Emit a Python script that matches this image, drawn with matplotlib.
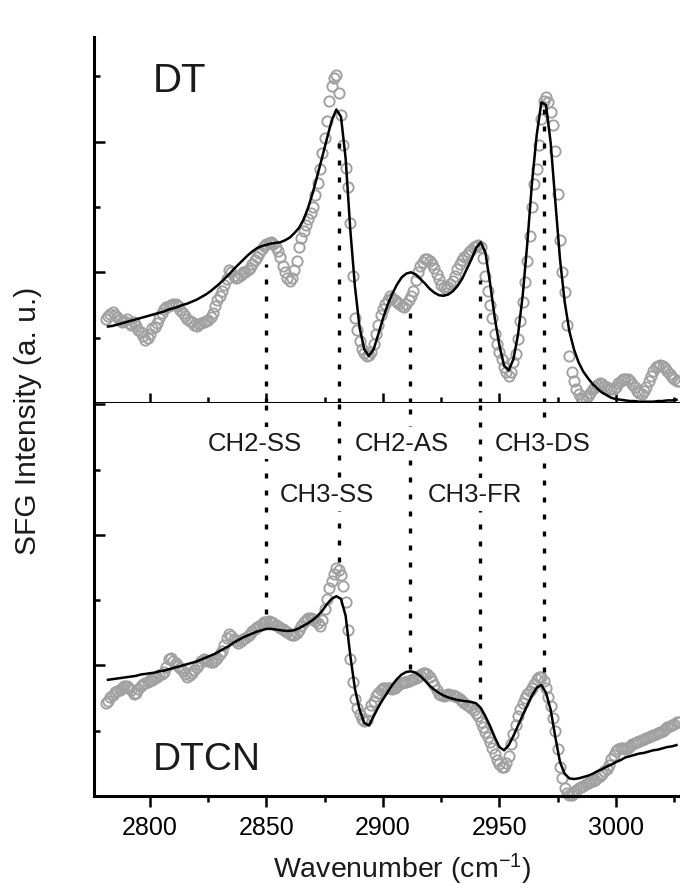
import numpy as np
import matplotlib
matplotlib.use('Agg')
import matplotlib.pyplot as plt
from matplotlib.ticker import MultipleLocator

plt.rcParams['font.family'] = ['Liberation Sans', 'DejaVu Sans']
plt.rcParams['mathtext.fontset'] = 'custom'
plt.rcParams['mathtext.rm'] = 'Liberation Sans'
plt.rcParams['mathtext.default'] = 'regular'

# SFG spectra, one point per cm-1 starting at 2781
dt_start = 2781
dt_data = [
    1.29, 1.33, 1.36, 1.39, 1.35, 1.31, 1.27, 1.24, 1.26, 1.29,
    1.22, 1.20, 1.24, 1.18, 1.12, 1.08, 1.03, 0.96, 1.00, 1.06,
    1.14, 1.17, 1.22, 1.30, 1.38, 1.44, 1.47, 1.49, 1.50, 1.51,
    1.52, 1.48, 1.42, 1.38, 1.33, 1.29, 1.26, 1.24, 1.20, 1.18,
    1.21, 1.23, 1.24, 1.25, 1.27, 1.31, 1.37, 1.48, 1.57, 1.63,
    1.71, 1.80, 1.89, 2.03, 2.00, 1.95, 1.91, 1.93, 1.96, 2.00,
    2.00, 2.03, 2.07, 2.13, 2.19, 2.23, 2.30, 2.36, 2.40, 2.44,
    2.45, 2.46, 2.43, 2.38, 2.33, 2.23, 2.10, 2.01, 1.92, 1.87,
    1.92, 2.03, 2.18, 2.38, 2.52, 2.63, 2.72, 2.82, 2.90, 3.00,
    3.18, 3.37, 3.58, 3.82, 4.05, 4.32, 4.62, 4.85, 4.98, 5.02,
    4.75, 4.40, 3.95, 3.60, 3.30, 2.75, 1.95, 1.30, 1.12, 0.95,
    0.83, 0.77, 0.72, 0.74, 0.78, 0.90, 1.05, 1.20, 1.35, 1.44,
    1.51, 1.58, 1.64, 1.61, 1.58, 1.55, 1.52, 1.48, 1.47, 1.52,
    1.57, 1.63, 1.72, 1.88, 2.00, 2.10, 2.16, 2.20, 2.21, 2.18,
    2.13, 2.06, 1.97, 1.89, 1.81, 1.77, 1.75, 1.77, 1.82, 1.87,
    1.95, 2.05, 2.12, 2.19, 2.23, 2.27, 2.31, 2.34, 2.38, 2.40,
    2.41, 2.38, 2.22, 1.95, 1.72, 1.50, 1.30, 1.05, 0.90, 0.78,
    0.67, 0.55, 0.47, 0.42, 0.48, 0.62, 0.75, 0.98, 1.25, 1.55,
    1.85, 2.18, 2.55, 3.00, 3.35, 3.58, 3.95, 4.35, 4.62, 4.68,
    4.60, 4.45, 4.25, 3.85, 3.20, 2.50, 2.00, 1.70, 1.20, 0.72,
    0.47, 0.34, 0.22, 0.14, 0.08, 0.06, 0.08, 0.11, 0.15, 0.21,
    0.25, 0.28, 0.30, 0.29, 0.26, 0.24, 0.22, 0.21, 0.21, 0.25,
    0.31, 0.34, 0.37, 0.37, 0.36, 0.33, 0.29, 0.24, 0.19, 0.16,
    0.14, 0.19, 0.24, 0.33, 0.42, 0.49, 0.55, 0.57, 0.58, 0.57,
    0.53, 0.49, 0.45, 0.40, 0.37, 0.34, 0.33,
]

dtcn_start = 2781
dtcn_data = [
    1.42, 1.46, 1.51, 1.55, 1.59, 1.61, 1.63, 1.66, 1.68, 1.69,
    1.66, 1.62, 1.57, 1.58, 1.64, 1.68, 1.71, 1.73, 1.75, 1.77,
    1.78, 1.80, 1.83, 1.85, 1.87, 1.90, 1.97, 2.10, 2.11, 2.07,
    2.03, 1.99, 1.96, 1.92, 1.87, 1.83, 1.85, 1.89, 1.93, 1.97,
    2.02, 2.07, 2.10, 2.09, 2.07, 2.06, 2.05, 2.08, 2.12, 2.17,
    2.22, 2.32, 2.42, 2.48, 2.45, 2.41, 2.38, 2.35, 2.37, 2.40,
    2.42, 2.45, 2.48, 2.52, 2.56, 2.59, 2.61, 2.63, 2.66, 2.67,
    2.68, 2.67, 2.65, 2.62, 2.60, 2.58, 2.56, 2.53, 2.51, 2.48,
    2.47, 2.46, 2.49, 2.54, 2.60, 2.66, 2.69, 2.72, 2.73, 2.71,
    2.68, 2.65, 2.61, 2.70, 2.86, 3.02, 3.18, 3.30, 3.40, 3.49,
    3.46, 3.38, 3.22, 2.97, 2.55, 2.10, 1.75, 1.48, 1.35, 1.25,
    1.18, 1.15, 1.17, 1.30, 1.40, 1.46, 1.53, 1.58, 1.63, 1.65,
    1.66, 1.66, 1.65, 1.64, 1.66, 1.69, 1.71, 1.73, 1.74, 1.75,
    1.76, 1.77, 1.79, 1.81, 1.83, 1.86, 1.89, 1.89, 1.87, 1.82,
    1.76, 1.70, 1.63, 1.57, 1.54, 1.53, 1.54, 1.56, 1.55, 1.54,
    1.53, 1.52, 1.49, 1.45, 1.42, 1.40, 1.38, 1.35, 1.31, 1.27,
    1.22, 1.14, 1.06, 0.98, 0.90, 0.82, 0.74, 0.64, 0.55, 0.49,
    0.44, 0.45, 0.50, 0.62, 0.80, 0.95, 1.08, 1.22, 1.34, 1.43,
    1.50, 1.56, 1.61, 1.65, 1.72, 1.79, 1.83, 1.82, 1.76, 1.66,
    1.52, 1.38, 1.20, 1.00, 0.72, 0.45, 0.28, 0.12, 0.05, 0.01,
    0.02, 0.05, 0.09, 0.12, 0.14, 0.16, 0.18, 0.20, 0.21, 0.23,
    0.25, 0.28, 0.31, 0.34, 0.38, 0.42, 0.48, 0.56, 0.63, 0.69,
    0.72, 0.74, 0.74, 0.72, 0.74, 0.77, 0.79, 0.81, 0.82, 0.84,
    0.86, 0.88, 0.89, 0.91, 0.92, 0.93, 0.95, 0.96, 0.98, 1.00,
    1.02, 1.05, 1.07, 1.09, 1.11, 1.13, 1.14,
]

# fitted curves, every 2 cm-1 starting at 2782
fit_start = 2782
dt_fit = [
    1.17, 1.18, 1.20, 1.22, 1.24, 1.26, 1.28, 1.30, 1.32, 1.34,
    1.36, 1.38, 1.40, 1.43, 1.45, 1.47, 1.50, 1.52, 1.55, 1.58,
    1.62, 1.66, 1.71, 1.77, 1.83, 1.90, 1.97, 2.05, 2.12, 2.19,
    2.26, 2.32, 2.37, 2.40, 2.42, 2.44, 2.45, 2.46, 2.49, 2.53,
    2.60, 2.68, 2.81, 3.00, 3.23, 3.50, 3.77, 4.05, 4.32, 4.49,
    4.38, 3.74, 2.65, 1.78, 1.15, 0.82, 0.72, 0.82, 1.05, 1.29,
    1.50, 1.67, 1.81, 1.92, 1.98, 2.00, 1.97, 1.90, 1.83, 1.75,
    1.69, 1.65, 1.64, 1.66, 1.71, 1.79, 1.90, 2.05, 2.20, 2.37,
    2.46, 2.30, 1.83, 1.30, 0.88, 0.57, 0.50, 0.67, 1.05, 1.65,
    2.46, 3.38, 4.10, 4.60, 4.56, 3.98, 3.08, 2.20, 1.55, 1.10,
    0.82, 0.62, 0.48, 0.38, 0.29, 0.22, 0.16, 0.12, 0.08, 0.06,
    0.05, 0.04, 0.03, 0.03, 0.02, 0.02, 0.02, 0.02, 0.03, 0.03,
    0.04, 0.04, 0.05,
]
dtcn_fit = [
    1.78, 1.79, 1.80, 1.81, 1.82, 1.83, 1.84, 1.86, 1.87, 1.88,
    1.89, 1.91, 1.92, 1.94, 1.96, 1.98, 2.00, 2.02, 2.04, 2.06,
    2.09, 2.12, 2.15, 2.18, 2.22, 2.26, 2.30, 2.35, 2.39, 2.43,
    2.46, 2.49, 2.52, 2.54, 2.56, 2.56, 2.55, 2.54, 2.53, 2.53,
    2.54, 2.57, 2.61, 2.65, 2.70, 2.76, 2.84, 2.94, 3.02, 3.06,
    3.02, 2.76, 2.15, 1.64, 1.32, 1.12, 1.08, 1.22, 1.36, 1.48,
    1.59, 1.70, 1.79, 1.86, 1.90, 1.91, 1.89, 1.84, 1.77, 1.69,
    1.63, 1.58, 1.54, 1.51, 1.49, 1.47, 1.46, 1.45, 1.44, 1.42,
    1.35, 1.22, 1.07, 0.90, 0.75, 0.70, 0.78, 0.92, 1.08, 1.24,
    1.39, 1.54, 1.66, 1.70, 1.58, 1.32, 0.90, 0.52, 0.34, 0.27,
    0.26, 0.27, 0.29, 0.31, 0.34, 0.38, 0.41, 0.45, 0.48, 0.52,
    0.55, 0.59, 0.61, 0.63, 0.65, 0.66, 0.68, 0.70, 0.71, 0.73,
    0.75, 0.76, 0.78,
]

# vibrational modes
modes = ['CH2-SS', 'CH3-SS', 'CH2-AS', 'CH3-FR', 'CH3-DS']
mode_pos = [2850, 2881, 2911.5, 2941.5, 2969]
dt_mode_top = [2.12, 4.0, 1.49, 1.88, 4.5]
dtcn_mode_bottom = [2.79, 3.58, 1.94, 1.49, 1.90]
label_x = [2845, 2876, 2908, 2939.5, 2968.5]
label_y = [5.41, 4.62, 5.41, 4.62, 5.41]

x_dt = np.arange(dt_start, dt_start + len(dt_data))
x_dtcn = np.arange(dtcn_start, dtcn_start + len(dtcn_data))
x_fit = np.arange(fit_start, fit_start + 2 * len(dt_fit), 2)

W, H = 680, 887
fig = plt.figure(figsize=(W / 100, H / 100), dpi=100)
left = 94 / W
ax1 = fig.add_axes([left, (H - 404) / H, 1 - left, (404 - 38) / H])
ax2 = fig.add_axes([left, (H - 797) / H, 1 - left, (797 - 404) / H])

grey = '#a0a0a0'
for ax, xd, yd, yf in [(ax1, x_dt, dt_data, dt_fit), (ax2, x_dtcn, dtcn_data, dtcn_fit)]:
    ax.plot(xd, yd, 'o', ms=7.4, mfc='none', mec=grey, mew=1.35, clip_on=False, zorder=2)
    ax.plot(x_fit, yf, '-', color='black', lw=1.8, zorder=3)
    ax.set_xlim(2776, 3027.5)
    ax.xaxis.set_major_locator(MultipleLocator(50))
    ax.xaxis.set_minor_locator(MultipleLocator(25))
    ax.yaxis.set_major_locator(MultipleLocator(2))
    ax.yaxis.set_minor_locator(MultipleLocator(1))
    ax.set_yticklabels([])
    ax.spines['right'].set_visible(False)
    for s in ['left', 'bottom', 'top']:
        ax.spines[s].set_linewidth(2.2)
    ax.tick_params(axis='y', which='both', direction='in', left=True, right=False, width=1.8)
    ax.tick_params(axis='y', which='major', length=8)
    ax.tick_params(axis='y', which='minor', length=4.5)

ax1.set_ylim(0, 5.6)
ax2.set_ylim(0, 6.02)
ax1.spines['top'].set_visible(False)
ax2.spines['top'].set_visible(False)

# middle axis: ticks on both sides
ax1.tick_params(axis='x', which='both', direction='inout', bottom=True, top=False,
                labelbottom=False, width=1.8)
ax1.tick_params(axis='x', which='major', length=15)
ax1.tick_params(axis='x', which='minor', length=8)

ax2.tick_params(axis='x', which='both', direction='out', bottom=True, top=False, width=1.8)
ax2.tick_params(axis='x', which='major', length=8, labelsize=18, pad=6)
ax2.tick_params(axis='x', which='minor', length=4)
ax2.set_xticks([2800, 2850, 2900, 2950, 3000])

dash = (0, (1.5, 3.6))
ax1.vlines(mode_pos, 0, dt_mode_top, colors='black', lw=2.4, linestyles=[dash], zorder=4)
ax2.vlines(mode_pos, dtcn_mode_bottom, 6.02, colors='black', lw=2.4, linestyles=[dash], zorder=4)

for name, lx, ly in zip(modes, label_x, label_y):
    ax2.text(lx, ly, name, ha='center', va='center', fontsize=18.5, color='#1a1a1a',
             bbox=dict(fc='white', ec='none', pad=3), zorder=5)

ax1.text(2801, 4.78, 'DT', fontsize=29, va='baseline', ha='left', color='#1a1a1a')
ax2.text(2801, 0.41, 'DTCN', fontsize=28, va='baseline', ha='left', color='#1a1a1a')

fig.text(28 / W, (H - 421) / H, 'SFG Intensity (a. u.)', rotation=90, fontsize=21.5,
         ha='center', va='center', color='#1a1a1a')
fig.text(402 / W, 9 / H, 'Wavenumber (cm$^{-1}$)', fontsize=20.5, ha='center',
         va='baseline', color='#1a1a1a')

fig.savefig('out.png', dpi=100)
